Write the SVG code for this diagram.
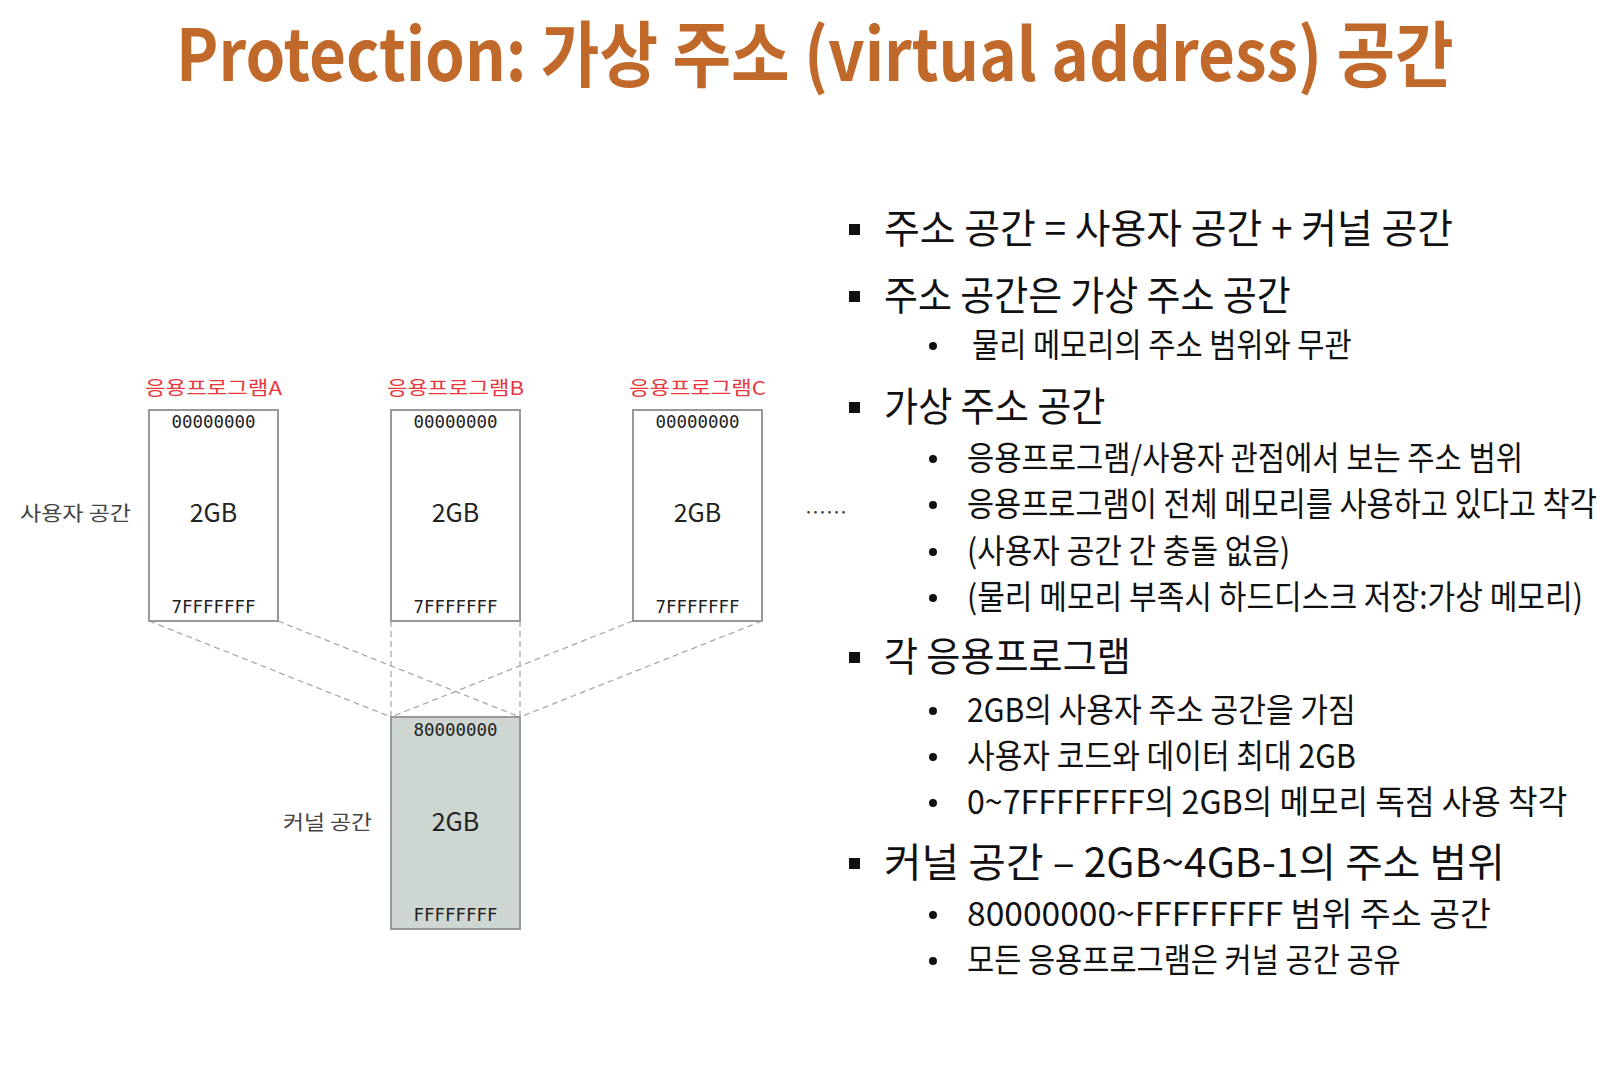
<svg xmlns="http://www.w3.org/2000/svg" width="1620" height="1084" viewBox="0 0 1620 1084">
<style>
.title{font-family:"Noto Sans CJK KR","Noto Sans",sans-serif;font-weight:bold;font-size:72px;fill:#c0692a}
.l1{font-family:"Noto Sans CJK KR",sans-serif;font-size:40px;fill:#111}
.l2{font-family:"Noto Sans CJK KR",sans-serif;font-size:33px;fill:#111}
.app{font-family:"Noto Sans CJK KR",sans-serif;font-size:19px;fill:#e8383d;text-anchor:middle}
.hex{font-family:"DejaVu Sans Mono",monospace;font-size:17px;fill:#222;text-anchor:middle}
.size{font-family:"Noto Sans CJK KR","Noto Sans",sans-serif;font-size:25px;fill:#222;text-anchor:middle}
.side{font-family:"Noto Sans CJK KR",sans-serif;font-size:20px;fill:#444}
.box{fill:#fff;stroke:#999;stroke-width:2}
.kbox{fill:#cdd6d0;stroke:#999;stroke-width:2}
.dash{stroke:#aaa;stroke-width:1.3;stroke-dasharray:6 4;fill:none}
.sq{fill:#111}
</style>
<text class="title" transform="translate(176,81) scale(0.85,1)" x="0" y="0" textLength="1503" lengthAdjust="spacingAndGlyphs">Protection: 가상 주소 (virtual address) 공간</text>

<g id="connectors">
<line class="dash" x1="149" y1="621" x2="391" y2="717"/>
<line class="dash" x1="278" y1="621" x2="520" y2="717"/>
<line class="dash" x1="391" y1="621" x2="391" y2="717"/>
<line class="dash" x1="520" y1="621" x2="520" y2="717"/>
<line class="dash" x1="633" y1="621" x2="391" y2="717"/>
<line class="dash" x1="762" y1="621" x2="520" y2="717"/>
</g>

<g id="appA">
<text class="app" x="213.5" y="395" textLength="137" lengthAdjust="spacingAndGlyphs">응용프로그램A</text>
<rect class="box" x="149" y="410" width="129" height="211"/>
<text class="hex" x="213.5" y="428" textLength="84" lengthAdjust="spacingAndGlyphs">00000000</text>
<text class="size" x="213.5" y="522">2GB</text>
<text class="hex" x="213.5" y="613" textLength="84" lengthAdjust="spacingAndGlyphs">7FFFFFFF</text>
</g>
<g id="appB">
<text class="app" x="455.5" y="395" textLength="137" lengthAdjust="spacingAndGlyphs">응용프로그램B</text>
<rect class="box" x="391" y="410" width="129" height="211"/>
<text class="hex" x="455.5" y="428" textLength="84" lengthAdjust="spacingAndGlyphs">00000000</text>
<text class="size" x="455.5" y="522">2GB</text>
<text class="hex" x="455.5" y="613" textLength="84" lengthAdjust="spacingAndGlyphs">7FFFFFFF</text>
</g>
<g id="appC">
<text class="app" x="697.5" y="395" textLength="137" lengthAdjust="spacingAndGlyphs">응용프로그램C</text>
<rect class="box" x="633" y="410" width="129" height="211"/>
<text class="hex" x="697.5" y="428" textLength="84" lengthAdjust="spacingAndGlyphs">00000000</text>
<text class="size" x="697.5" y="522">2GB</text>
<text class="hex" x="697.5" y="613" textLength="84" lengthAdjust="spacingAndGlyphs">7FFFFFFF</text>
</g>
<g id="kernel">
<rect class="kbox" x="391" y="717" width="129" height="212"/>
<text class="hex" x="455.5" y="736" textLength="84" lengthAdjust="spacingAndGlyphs">80000000</text>
<text class="size" x="455.5" y="831">2GB</text>
<text class="hex" x="455.5" y="921" textLength="84" lengthAdjust="spacingAndGlyphs">FFFFFFFF</text>
</g>
<g id="labels">
<text class="side" x="20" y="521" textLength="111" lengthAdjust="spacingAndGlyphs">사용자 공간</text>
<text class="side" x="283" y="830" textLength="89" lengthAdjust="spacingAndGlyphs">커널 공간</text>
<text class="side" x="805" y="520" textLength="42" lengthAdjust="spacingAndGlyphs" fill="#666">……</text>
</g>

<g id="bullets">
<rect class="sq" x="849" y="224" width="11" height="11"/>
<text class="l1" transform="translate(884,243) scale(0.82,1)" textLength="694" lengthAdjust="spacingAndGlyphs">주소 공간 = 사용자 공간 + 커널 공간</text>
<rect class="sq" x="849" y="291" width="11" height="11"/>
<text class="l1" transform="translate(884,310) scale(0.82,1)" textLength="496" lengthAdjust="spacingAndGlyphs">주소 공간은 가상 주소 공간</text>
<circle class="sq" cx="933" cy="346" r="4"/>
<text class="l2" transform="translate(972,357) scale(0.82,1)" textLength="463" lengthAdjust="spacingAndGlyphs">물리 메모리의 주소 범위와 무관</text>
<rect class="sq" x="849" y="402" width="11" height="11"/>
<text class="l1" transform="translate(884,421) scale(0.82,1)" textLength="270" lengthAdjust="spacingAndGlyphs">가상 주소 공간</text>
<circle class="sq" cx="933" cy="459" r="4"/>
<text class="l2" transform="translate(967,470) scale(0.82,1)" textLength="678" lengthAdjust="spacingAndGlyphs">응용프로그램/사용자 관점에서 보는 주소 범위</text>
<circle class="sq" cx="933" cy="505" r="4"/>
<text class="l2" transform="translate(967,516) scale(0.82,1)" textLength="768" lengthAdjust="spacingAndGlyphs">응용프로그램이 전체 메모리를 사용하고 있다고 착각</text>
<circle class="sq" cx="933" cy="552" r="4"/>
<text class="l2" transform="translate(967,563) scale(0.82,1)" textLength="394" lengthAdjust="spacingAndGlyphs">(사용자 공간 간 충돌 없음)</text>
<circle class="sq" cx="933" cy="598" r="4"/>
<text class="l2" transform="translate(967,609) scale(0.82,1)" textLength="751" lengthAdjust="spacingAndGlyphs">(물리 메모리 부족시 하드디스크 저장:가상 메모리)</text>
<rect class="sq" x="849" y="652" width="11" height="11"/>
<text class="l1" transform="translate(884,671) scale(0.82,1)" textLength="301" lengthAdjust="spacingAndGlyphs">각 응용프로그램</text>
<circle class="sq" cx="933" cy="711" r="4"/>
<text class="l2" transform="translate(967,722) scale(0.82,1)" textLength="474" lengthAdjust="spacingAndGlyphs">2GB의 사용자 주소 공간을 가짐</text>
<circle class="sq" cx="933" cy="757" r="4"/>
<text class="l2" transform="translate(967,768) scale(0.82,1)" textLength="474" lengthAdjust="spacingAndGlyphs">사용자 코드와 데이터 최대 2GB</text>
<circle class="sq" cx="933" cy="803" r="4"/>
<text class="l2" transform="translate(967,814) scale(0.82,1)" textLength="732" lengthAdjust="spacingAndGlyphs">0~7FFFFFFF의 2GB의 메모리 독점 사용 착각</text>
<rect class="sq" x="849" y="858" width="11" height="11"/>
<text class="l1" transform="translate(884,877) scale(0.82,1)" textLength="757" lengthAdjust="spacingAndGlyphs">커널 공간 – 2GB~4GB-1의 주소 범위</text>
<circle class="sq" cx="933" cy="915" r="4"/>
<text class="l2" transform="translate(967,926) scale(0.82,1)" textLength="639" lengthAdjust="spacingAndGlyphs">80000000~FFFFFFFF 범위 주소 공간</text>
<circle class="sq" cx="933" cy="961" r="4"/>
<text class="l2" transform="translate(967,972) scale(0.82,1)" textLength="529" lengthAdjust="spacingAndGlyphs">모든 응용프로그램은 커널 공간 공유</text>
</g>
</svg>
